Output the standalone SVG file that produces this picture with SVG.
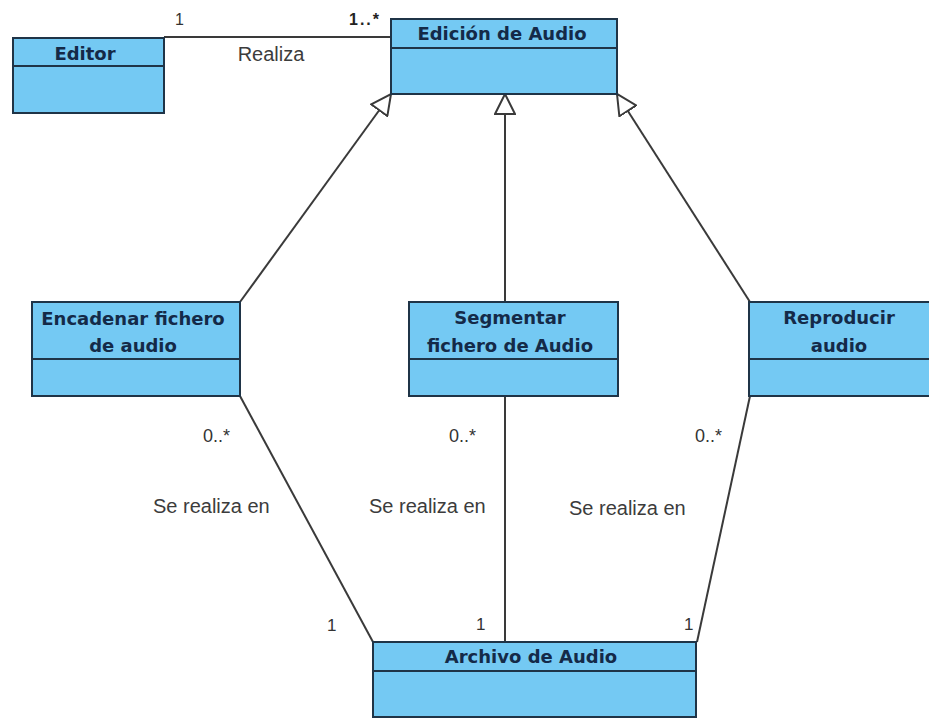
<svg xmlns="http://www.w3.org/2000/svg" width="929" height="719" viewBox="0 0 929 719">
<style>
.box{fill:#74c9f3;stroke:#1f3447;stroke-width:2}
.div{stroke:#1f3447;stroke-width:2}
.name{font-family:"DejaVu Sans","Liberation Sans",sans-serif;font-weight:bold;font-size:18px;fill:#142a48;text-anchor:middle}
.lbl{font-family:"Liberation Sans",Arial,sans-serif;font-size:20px;fill:#3c3c3c}
.mult{font-family:"Liberation Sans",Arial,sans-serif;font-size:18px;fill:#333}
.ln{stroke:#3a3a3a;stroke-width:2;fill:none}
</style>
<defs>
<marker id="gen" viewBox="0 0 22 22" refX="21" refY="11" markerWidth="22" markerHeight="22" markerUnits="userSpaceOnUse" orient="auto">
<path d="M1,1 L21,11 L1,21 Z" fill="#fff" stroke="#3a3a3a" stroke-width="2"/>
</marker>
</defs>
<g id="connectors">
<line class="ln" x1="164" y1="37" x2="391" y2="37"/>
<line class="ln" x1="240" y1="302" x2="391" y2="94" marker-end="url(#gen)"/>
<line class="ln" x1="505" y1="302" x2="505" y2="94" marker-end="url(#gen)"/>
<line class="ln" x1="750" y1="302" x2="617" y2="94" marker-end="url(#gen)"/>
<line class="ln" x1="240" y1="396" x2="373" y2="642"/>
<line class="ln" x1="505" y1="396" x2="505" y2="642"/>
<line class="ln" x1="750" y1="396" x2="697" y2="642"/>
<text class="mult" x="175" y="25" style="font-size:16px">1</text>
<text class="mult" x="349" y="25" style="font-size:16px;font-weight:bold;letter-spacing:2px;fill:#222">1..*</text>
<text class="lbl" x="271" y="61" text-anchor="middle">Realiza</text>
<text class="mult" x="203" y="442">0..*</text>
<text class="mult" x="449" y="442">0..*</text>
<text class="mult" x="695" y="442">0..*</text>
<text class="lbl" x="153" y="513">Se realiza en</text>
<text class="lbl" x="369" y="513">Se realiza en</text>
<text class="lbl" x="569" y="515">Se realiza en</text>
<text class="mult" x="327" y="631" style="font-size:17px">1</text>
<text class="mult" x="476" y="630" style="font-size:17px">1</text>
<text class="mult" x="684" y="630" style="font-size:17px">1</text>
</g>
<g id="editor">
<rect class="box" x="13" y="38" width="151" height="75"/>
<line class="div" x1="13" y1="66" x2="164" y2="66"/>
<text class="name" x="85" y="60">Editor</text>
</g>
<g id="edicion">
<rect class="box" x="391" y="19" width="226" height="75"/>
<line class="div" x1="391" y1="48" x2="617" y2="48"/>
<text class="name" x="502" y="40">Edición de Audio</text>
</g>
<g id="encadenar">
<rect class="box" x="32" y="302" width="208" height="94"/>
<line class="div" x1="32" y1="359" x2="240" y2="359"/>
<text class="name" x="133" y="325">Encadenar fichero</text>
<text class="name" x="133" y="352">de audio</text>
</g>
<g id="segmentar">
<rect class="box" x="409" y="302" width="209" height="94"/>
<line class="div" x1="409" y1="359" x2="618" y2="359"/>
<text class="name" x="510" y="324">Segmentar</text>
<text class="name" x="510" y="352">fichero de Audio</text>
</g>
<g id="reproducir">
<rect class="box" x="749" y="302" width="190" height="94"/>
<line class="div" x1="749" y1="359" x2="939" y2="359"/>
<text class="name" x="839" y="324">Reproducir</text>
<text class="name" x="839" y="352">audio</text>
</g>
<g id="archivo">
<rect class="box" x="373" y="642" width="323" height="75"/>
<line class="div" x1="373" y1="671" x2="696" y2="671"/>
<text class="name" x="531" y="663">Archivo de Audio</text>
</g>
</svg>
